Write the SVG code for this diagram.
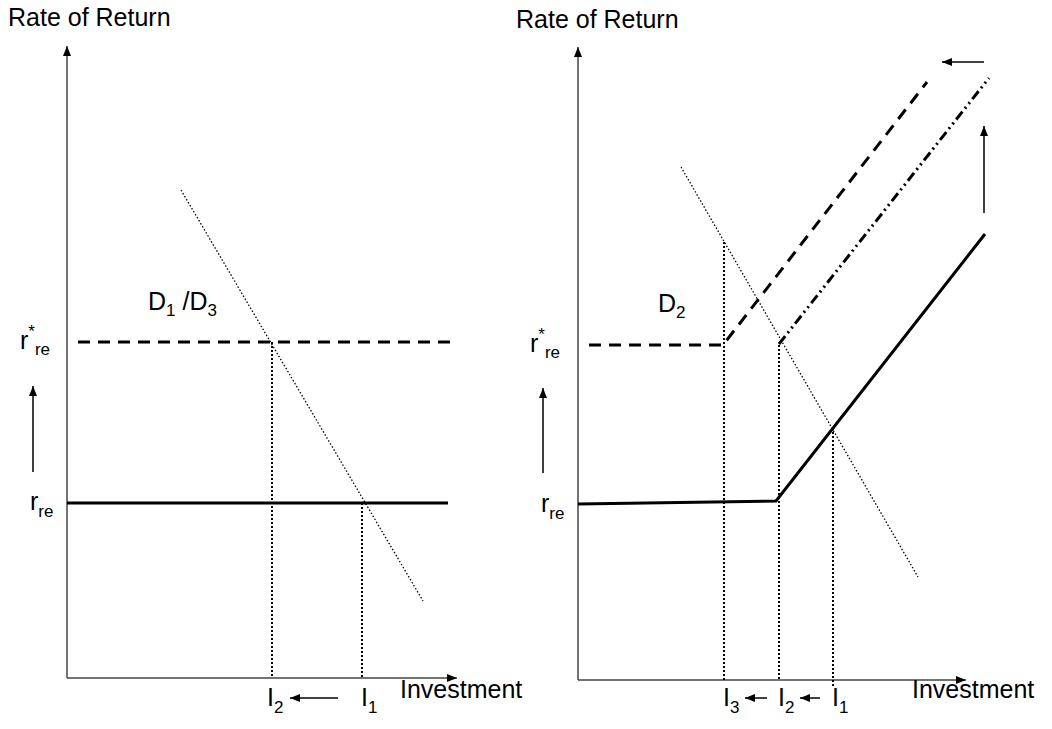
<svg xmlns="http://www.w3.org/2000/svg" width="1052" height="729" viewBox="0 0 1052 729">
<style>
text{font-family:"Liberation Sans",Arial,sans-serif;font-size:25px;fill:#000}
.sub{font-size:17px}
.axis{stroke:#444;stroke-width:1.5;fill:none}
.arr{stroke:#000;stroke-width:1.5;fill:none}
.solid{stroke:#000;stroke-width:3;fill:none}
.dash{stroke:#000;stroke-width:3;fill:none;stroke-dasharray:12 8}
.dashdot{stroke:#000;stroke-width:3;fill:none;stroke-dasharray:10 4 2 4 2 4}
.demand{stroke:#000;stroke-width:1.3;fill:none;stroke-dasharray:1.5 2}
.vdot{stroke:#000;stroke-width:2;fill:none;stroke-dasharray:2 2}
</style>
<defs>
<marker id="ah" markerWidth="10" markerHeight="10" viewBox="0 0 10 10" refX="10" refY="5" orient="auto" markerUnits="userSpaceOnUse">
<path d="M0,1 L10,5 L0,9 Z" fill="#000"/>
</marker>
</defs>
<rect width="1052" height="729" fill="#fff"/>
<g id="connectors">
<line class="axis" x1="67" y1="678" x2="67" y2="46" marker-end="url(#ah)"/>
<line class="axis" x1="67" y1="678" x2="457" y2="678" marker-end="url(#ah)"/>
<line class="axis" x1="578" y1="680" x2="578" y2="47" marker-end="url(#ah)"/>
<line class="axis" x1="578" y1="680" x2="966" y2="680" marker-end="url(#ah)"/>
<line class="dash" x1="78" y1="342" x2="455" y2="342"/>
<line class="solid" x1="67" y1="503" x2="448" y2="503"/>
<line class="demand" x1="181" y1="190" x2="423" y2="601"/>
<line class="vdot" x1="272" y1="342" x2="272" y2="678"/>
<line class="vdot" x1="362" y1="503" x2="362" y2="678"/>
<line class="arr" x1="33" y1="472" x2="33" y2="386" marker-end="url(#ah)"/>
<line class="arr" x1="338" y1="698" x2="290" y2="698" marker-end="url(#ah)"/>
<polyline class="dash" points="589,345 723,345 927,82"/>
<line class="dashdot" x1="779" y1="344" x2="989" y2="78"/>
<polyline class="solid" points="578,504 776,501 985,234"/>
<line class="demand" x1="681" y1="167" x2="918" y2="577"/>
<line class="vdot" x1="724" y1="242" x2="724" y2="680"/>
<line class="vdot" x1="779" y1="345" x2="779" y2="680"/>
<line class="vdot" x1="833" y1="428" x2="833" y2="686"/>
<line class="arr" x1="543" y1="473" x2="543" y2="388" marker-end="url(#ah)"/>
<line class="arr" x1="984" y1="213" x2="984" y2="126" marker-end="url(#ah)"/>
<line class="arr" x1="984" y1="62" x2="942" y2="62" marker-end="url(#ah)"/>
<line class="arr" x1="767" y1="698" x2="745" y2="698" marker-end="url(#ah)"/>
<line class="arr" x1="820" y1="698" x2="800" y2="698" marker-end="url(#ah)"/>
</g>
<g id="labels-left">
<text x="8" y="26">Rate of Return</text>
<text x="148" y="310">D<tspan class="sub" dy="6">1</tspan><tspan dy="-6"> /D</tspan><tspan class="sub" dy="6">3</tspan></text>
<text x="20" y="349">r<tspan class="sub" dy="-12">*</tspan><tspan class="sub" dy="18">re</tspan></text>
<text x="30" y="510">r<tspan class="sub" dy="7">re</tspan></text>
<text x="267" y="706">I<tspan class="sub" dy="7">2</tspan></text>
<text x="361" y="706">I<tspan class="sub" dy="7">1</tspan></text>
<text x="400" y="698">Investment</text>
</g>
<g id="labels-right">
<text x="516" y="28">Rate of Return</text>
<text x="658" y="312">D<tspan class="sub" dy="6">2</tspan></text>
<text x="530" y="352">r<tspan class="sub" dy="-12">*</tspan><tspan class="sub" dy="18">re</tspan></text>
<text x="541" y="512">r<tspan class="sub" dy="7">re</tspan></text>
<text x="723" y="706">I<tspan class="sub" dy="7">3</tspan></text>
<text x="778" y="706">I<tspan class="sub" dy="7">2</tspan></text>
<text x="832" y="706">I<tspan class="sub" dy="7">1</tspan></text>
<text x="912" y="698">Investment</text>
</g>
</svg>
